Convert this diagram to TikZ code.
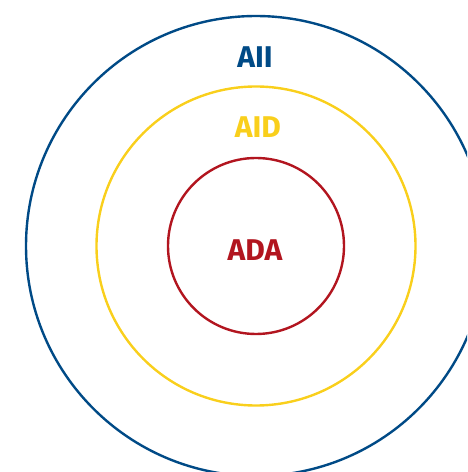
\documentclass[tikz,border=0pt]{standalone}
\usepackage{fontspec}
\setmainfont{Fira Sans}
\definecolor{cblue}{HTML}{004A86}
\definecolor{cyellow}{HTML}{F9CF1C}
\definecolor{cred}{HTML}{B2151F}
\begin{document}
\begin{tikzpicture}[x=1pt,y=1pt,
  ring/.style={line width=2.4pt},
  lbl/.style={font=\fontsize{30}{30}\selectfont\bfseries, anchor=base, inner sep=0pt}]
\useasboundingbox (0,0) rectangle (467,472);
\clip (0,0) rectangle (467,472);
\coordinate (c) at (256,226);
\draw[ring, cblue] (c) circle[radius=230];
\draw[ring, cyellow] (c) circle[radius=159.5];
\draw[ring, cred] (c) circle[radius=88];
\node[lbl, text=cblue] (all) at (255,404) {AII};
\node[lbl, text=cyellow] (aid) at (258,334) {AID};
\node[lbl, text=cred] (ada) at (255,211) {ADA};
\end{tikzpicture}
\end{document}
